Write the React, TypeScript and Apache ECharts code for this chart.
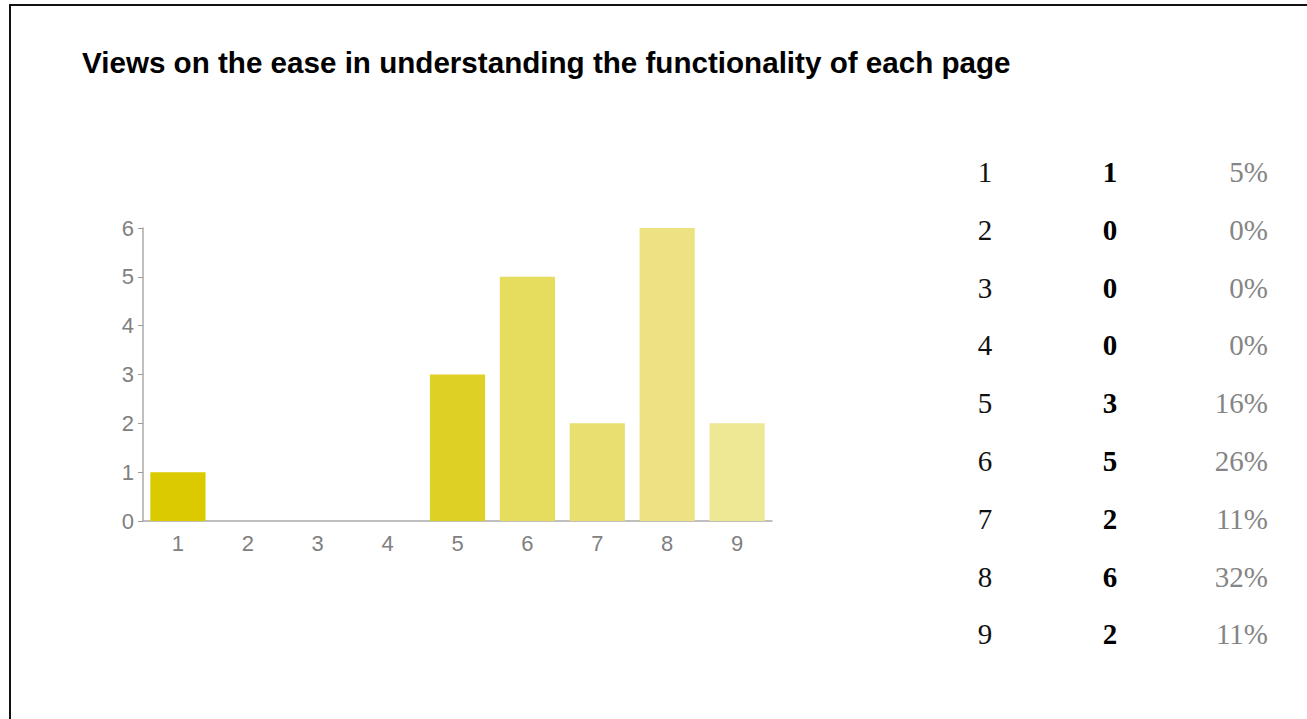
import React, { useEffect, useRef } from "react";
import * as echarts from "echarts";

const categories = ["1", "2", "3", "4", "5", "6", "7", "8", "9"];
const counts = [1, 0, 0, 0, 3, 5, 2, 6, 2];
const percents = ["5%", "0%", "0%", "0%", "16%", "26%", "11%", "32%", "11%"];
const yTicks = [0, 1, 2, 3, 4, 5, 6];
const title = "Views on the ease in understanding the functionality of each page";

const barColors = ["#dcca00", "#dccb00", "#dccb00", "#dccb00", "#dfd025", "#e6dc5e", "#e9df70", "#ece282", "#eee793"];

export default function App() {
  const ref = useRef<HTMLDivElement>(null);
  useEffect(() => {
    document.body.style.margin = "0";
    const chart = echarts.init(ref.current!, null, { renderer: "svg" });
    const rowY0 = 172;
    const rowStep = 57.8;
    const tableTexts: any[] = [];
    categories.forEach((c, i) => {
      const y = rowY0 + i * rowStep;
      tableTexts.push({
        type: "text",
        x: 985,
        y,
        style: { text: c, fill: "#111", font: "29px 'Liberation Serif', serif", align: "center", verticalAlign: "middle" },
      });
      tableTexts.push({
        type: "text",
        x: 1110,
        y,
        style: { text: String(counts[i]), fill: "#000", font: "bold 29px 'Liberation Serif', serif", align: "center", verticalAlign: "middle" },
      });
      tableTexts.push({
        type: "text",
        x: 1268,
        y,
        style: { text: percents[i], fill: "#858585", font: "29px 'Liberation Serif', serif", align: "right", verticalAlign: "middle" },
      });
    });
    chart.setOption({
      animation: false,
      backgroundColor: "#fff",
      grid: { left: 143, right: 535, top: 228, bottom: 198 },
      xAxis: {
        type: "category",
        data: categories,
        axisLine: { lineStyle: { color: "#aaa", width: 1.5 } },
        axisTick: { alignWithLabel: true, length: 5, lineStyle: { color: "#999" } },
        axisLabel: { color: "#808080", fontSize: 22, fontFamily: "Arial", margin: 11 },
      },
      yAxis: {
        type: "value",
        min: 0,
        max: yTicks[yTicks.length - 1],
        interval: 1,
        splitLine: { show: false },
        axisLine: { show: true, lineStyle: { color: "#aaa", width: 1.5 } },
        axisTick: { show: true, length: 5, lineStyle: { color: "#999" } },
        axisLabel: { color: "#808080", fontSize: 22, fontFamily: "Arial", margin: 9 },
      },
      series: [
        {
          type: "bar",
          barWidth: "79%",
          data: counts.map((v, i) => ({ value: v, itemStyle: { color: barColors[i] } })),
        },
      ],
      graphic: [
        { type: "line", shape: { x1: 9, y1: 5, x2: 1307, y2: 5 }, style: { stroke: "#111", lineWidth: 2 } },
        { type: "line", shape: { x1: 10, y1: 5, x2: 10, y2: 719 }, style: { stroke: "#111", lineWidth: 2 } },
        {
          type: "text",
          x: 82,
          y: 62,
          style: { text: title, fill: "#000", font: "bold 29.6px 'Liberation Sans', Arial, sans-serif", verticalAlign: "middle" },
        },
        ...tableTexts,
      ],
    });
    return () => chart.dispose();
  }, []);
  return <div ref={ref} style={{ width: 1307, height: 719 }} />;
}
